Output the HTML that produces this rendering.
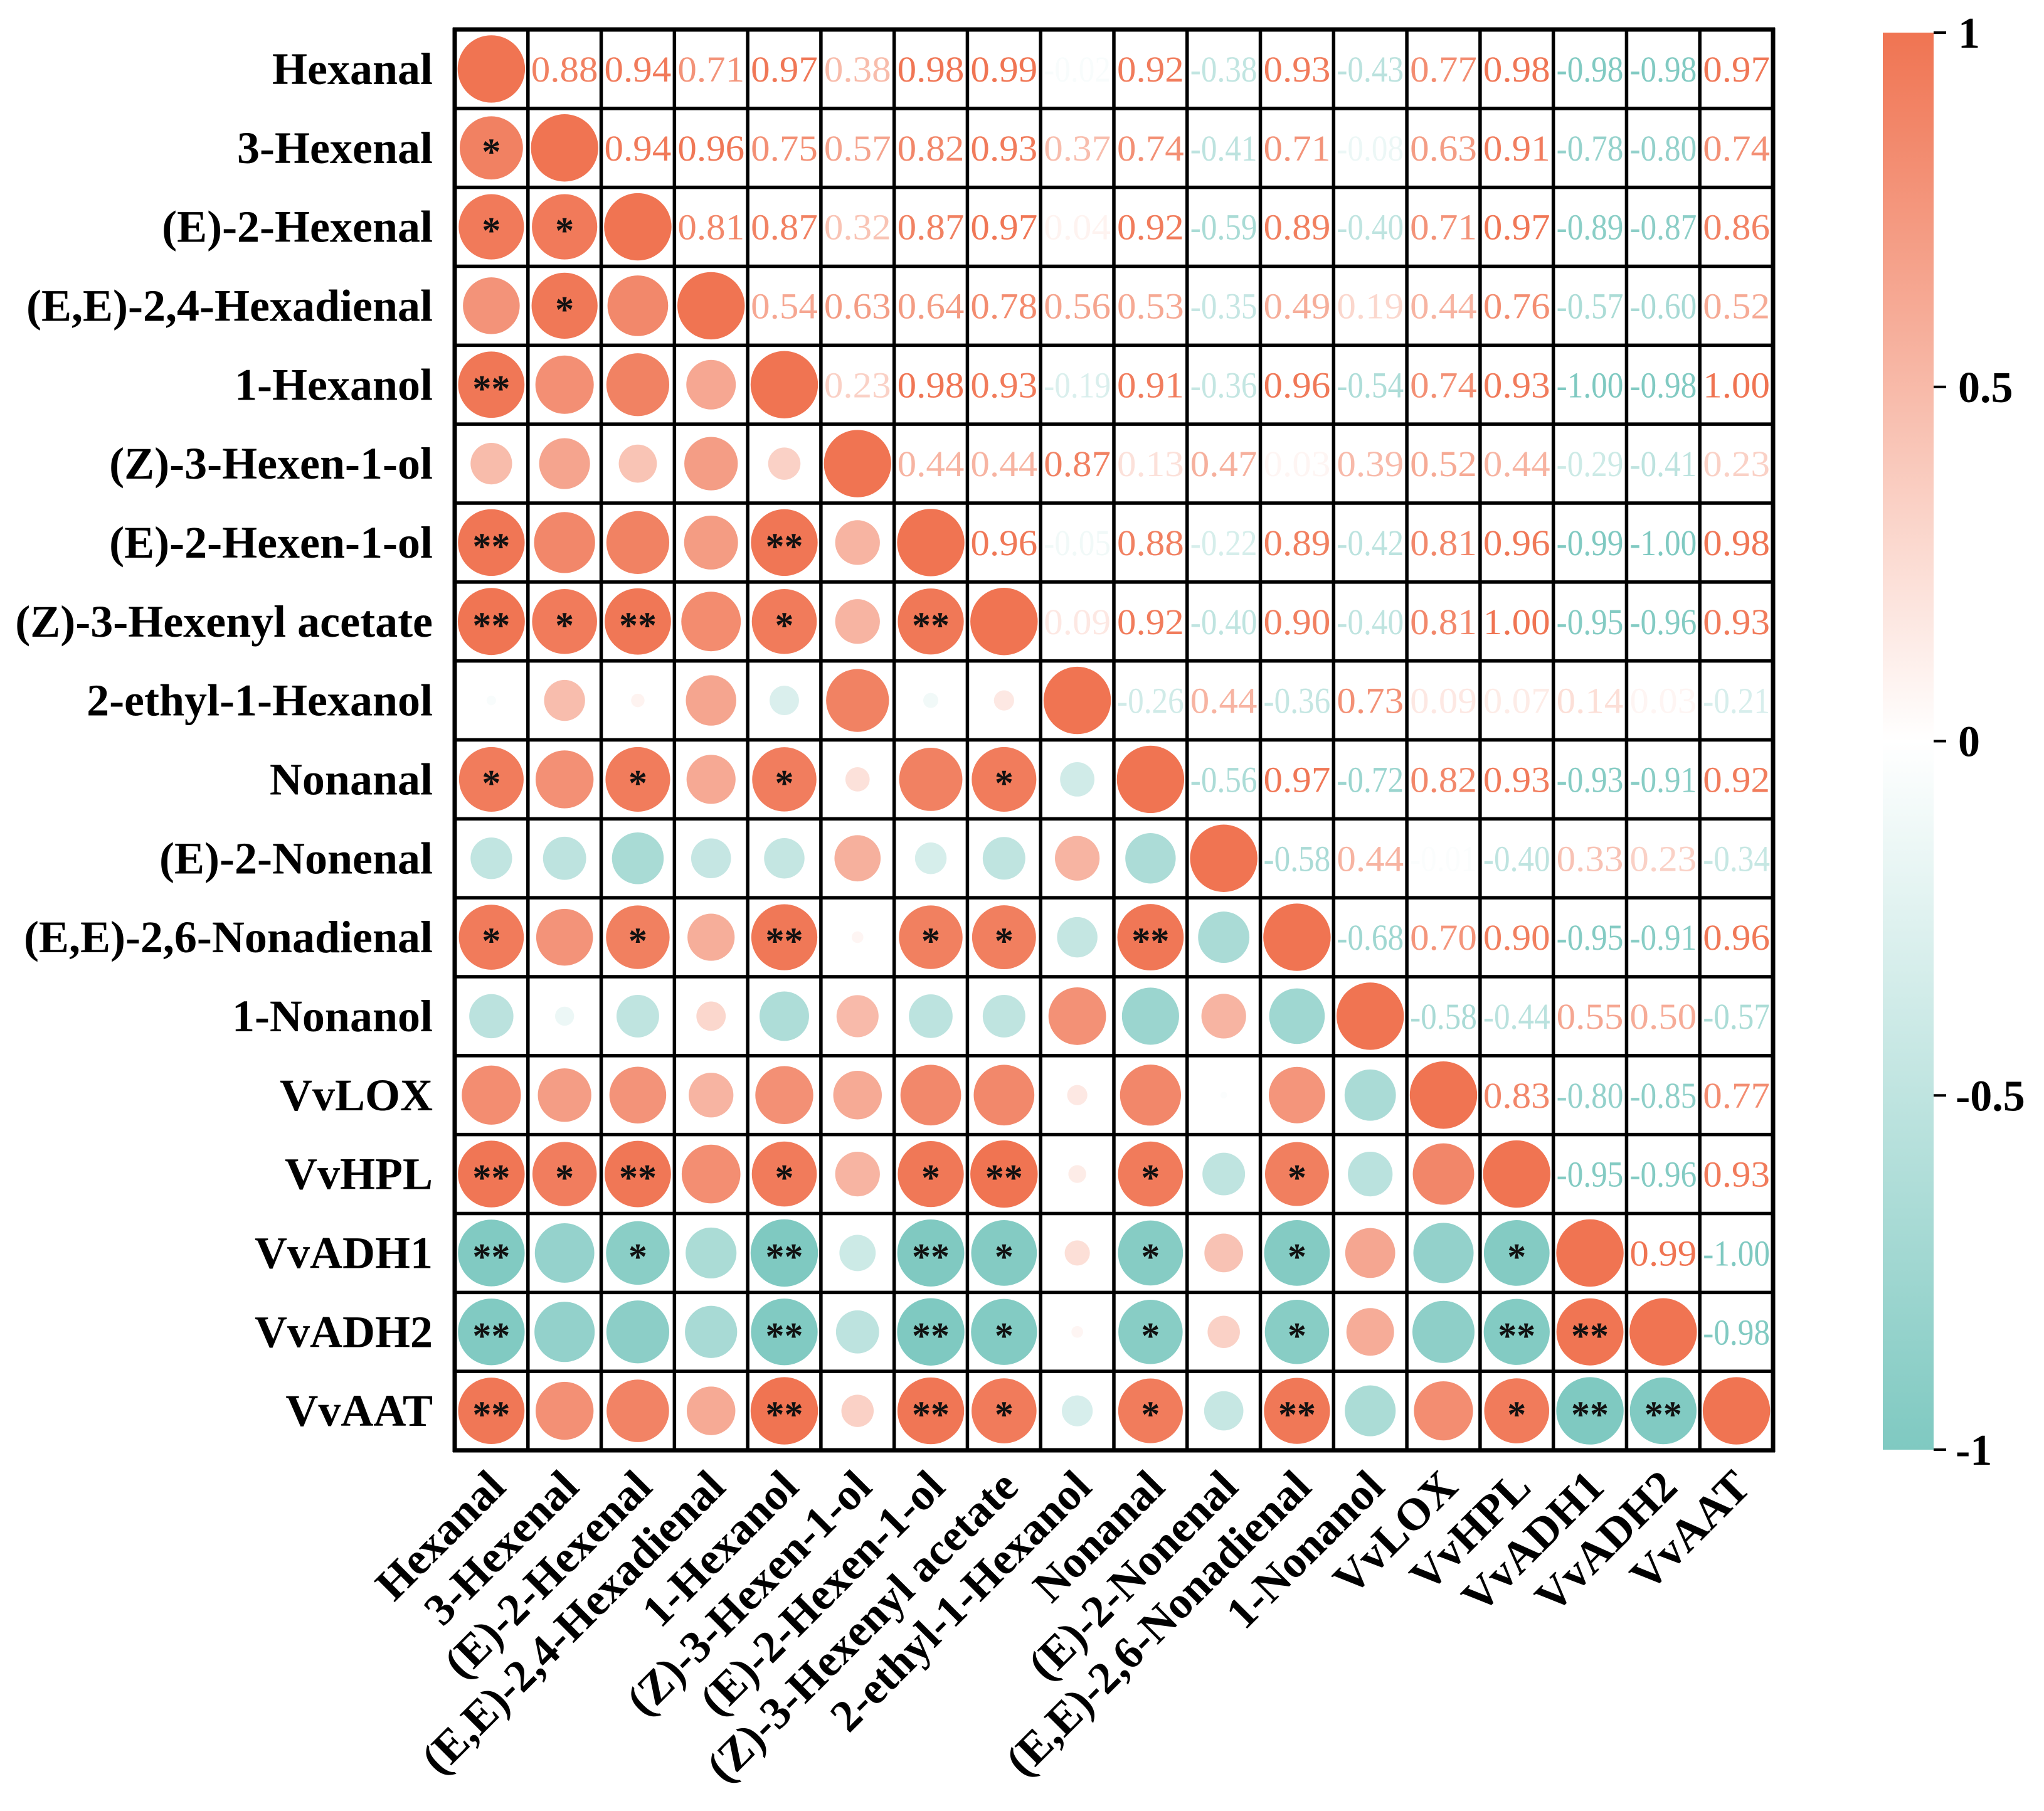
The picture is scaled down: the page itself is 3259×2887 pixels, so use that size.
<!DOCTYPE html>
<html><head><meta charset="utf-8"><style>
html,body{margin:0;padding:0;background:#fff;}
svg{display:block;}
text{font-family:"Liberation Serif",serif;}
</style></head><body>
<svg id="chart" width="3259" height="2887" viewBox="0 0 3259 2887" xmlns="http://www.w3.org/2000/svg">
<defs>
<linearGradient id="cbar" x1="0" y1="0" x2="0" y2="1">
<stop offset="0" stop-color="#F07452"/>
<stop offset="0.5" stop-color="#FFFFFF"/>
<stop offset="1" stop-color="#7FC9C1"/>
</linearGradient>
</defs>
<g id="cells"></g>
<g id="grid"></g>
<g id="ylab"></g>
<g id="xlab"></g>
<g id="legend"></g>
</svg>
<script>
const labels = ["Hexanal","3-Hexenal","(E)-2-Hexenal","(E,E)-2,4-Hexadienal","1-Hexanol","(Z)-3-Hexen-1-ol","(E)-2-Hexen-1-ol","(Z)-3-Hexenyl acetate","2-ethyl-1-Hexanol","Nonanal","(E)-2-Nonenal","(E,E)-2,6-Nonadienal","1-Nonanol","VvLOX","VvHPL","VvADH1","VvADH2","VvAAT"];
const upper0 = [0.88,0.94,0.71,0.97,0.38,0.98,0.99,-0.02,0.92,-0.38,0.93,-0.43,0.77,0.98,-0.98,-0.98,0.97];
const upper1 = [0.94,0.96,0.75,0.57,0.82,0.93,0.37,0.74,-0.41,0.71,-0.08,0.63,0.91,-0.78,-0.80,0.74];
const upper2 = [0.81,0.87,0.32,0.87,0.97,0.04,0.92,-0.59,0.89,-0.40,0.71,0.97,-0.89,-0.87,0.86];
const upper3 = [0.54,0.63,0.64,0.78,0.56,0.53,-0.35,0.49,0.19,0.44,0.76,-0.57,-0.60,0.52];
const upper4 = [0.23,0.98,0.93,-0.19,0.91,-0.36,0.96,-0.54,0.74,0.93,-1.00,-0.98,1.00];
const upper5 = [0.44,0.44,0.87,0.13,0.47,0.03,0.39,0.52,0.44,-0.29,-0.41,0.23];
const upper6 = [0.96,-0.05,0.88,-0.22,0.89,-0.42,0.81,0.96,-0.99,-1.00,0.98];
const upper7 = [0.09,0.92,-0.40,0.90,-0.40,0.81,1.00,-0.95,-0.96,0.93];
const upper8 = [-0.26,0.44,-0.36,0.73,0.09,0.07,0.14,0.03,-0.21];
const upper9 = [-0.56,0.97,-0.72,0.82,0.93,-0.93,-0.91,0.92];
const upper10 = [-0.58,0.44,-0.01,-0.40,0.33,0.23,-0.34];
const upper11 = [-0.68,0.70,0.90,-0.95,-0.91,0.96];
const upper12 = [-0.58,-0.44,0.55,0.50,-0.57];
const upper13 = [0.83,-0.80,-0.85,0.77];
const upper14 = [-0.95,-0.96,0.93];
const upper15 = [0.99,-1.00];
const upper16 = [-0.98];
const upperRows = [upper0,upper1,upper2,upper3,upper4,upper5,upper6,upper7,upper8,upper9,upper10,upper11,upper12,upper13,upper14,upper15,upper16,[]];
const sigMarks = [
[1,0,"*"],[2,0,"*"],[2,1,"*"],[3,1,"*"],[4,0,"**"],
[6,0,"**"],[6,4,"**"],
[7,0,"**"],[7,1,"*"],[7,2,"**"],[7,4,"*"],[7,6,"**"],
[9,0,"*"],[9,2,"*"],[9,4,"*"],[9,7,"*"],
[11,0,"*"],[11,2,"*"],[11,4,"**"],[11,6,"*"],[11,7,"*"],[11,9,"**"],
[14,0,"**"],[14,1,"*"],[14,2,"**"],[14,4,"*"],[14,6,"*"],[14,7,"**"],[14,9,"*"],[14,11,"*"],
[15,0,"**"],[15,2,"*"],[15,4,"**"],[15,6,"**"],[15,7,"*"],[15,9,"*"],[15,11,"*"],[15,14,"*"],
[16,0,"**"],[16,4,"**"],[16,6,"**"],[16,7,"*"],[16,9,"*"],[16,11,"*"],[16,14,"**"],[16,15,"**"],
[17,0,"**"],[17,4,"**"],[17,6,"**"],[17,7,"*"],[17,9,"*"],[17,11,"**"],[17,14,"*"],[17,15,"**"],[17,16,"**"]
];
const cbTicks = [1,0.5,0,-0.5,-1];
const cbTickLabels = ["1","0.5","0","-0.5","-1"];

const NS="http://www.w3.org/2000/svg";
const n=labels.length;
const X0=725,X1=2827,Y0=47,Y1=2312;
const cw=(X1-X0)/n, rh=(Y1-Y0)/n;
const xc=j=>X0+cw*(j+0.5);
const yc=i=>Y0+rh*(i+0.5);
function corr(i,j){ if(i===j) return 1; if(i<j) return upperRows[i][j-i-1]; return upperRows[j][i-j-1]; }
function color(v){
  const t=Math.pow(Math.min(1,Math.abs(v)),0.75);
  const c=v>=0?[240,116,82]:[127,201,193];
  const r=Math.round(255+(c[0]-255)*t),g=Math.round(255+(c[1]-255)*t),b=Math.round(255+(c[2]-255)*t);
  return `rgb(${r},${g},${b})`;
}
function mk(tag,attrs,parent){const e=document.createElementNS(NS,tag);for(const k in attrs)e.setAttribute(k,attrs[k]);parent.appendChild(e);return e;}
const cells=document.getElementById('cells');
const maxR=Math.min(cw,rh)*0.46;
for(let i=0;i<n;i++){for(let j=0;j<n;j++){
  const v=corr(i,j);
  if(j<=i){
    const c=mk('circle',{cx:xc(j),cy:yc(i),r:maxR*Math.sqrt(Math.abs(v)),fill:color(v)},cells);
    
    
  } else {
    const t=mk('text',{x:xc(j),y:yc(i)+20,'font-size':58,'text-anchor':'middle',fill:color(v),textLength:cw-10,lengthAdjust:'spacingAndGlyphs'},cells);
    t.textContent=v.toFixed(2);
    
    
  }
}}
sigMarks.forEach(m=>{
  const t=mk('text',{x:xc(m[1]),y:yc(m[0])+26,'font-size':60,'font-weight':'bold','text-anchor':'middle',fill:'#111'},cells);
  t.textContent=m[2];
  
  
});
const grid=document.getElementById('grid');
for(let k=0;k<=n;k++){
  const w=(k===0||k===n)?7:5.5;
  const l1=mk('line',{x1:X0+cw*k,x2:X0+cw*k,y1:Y0-3,y2:Y1+3,stroke:'#000','stroke-width':w},grid);
  
  
  const l2=mk('line',{x1:X0-3,x2:X1+3,y1:Y0+rh*k,y2:Y0+rh*k,stroke:'#000','stroke-width':w},grid);
  
  
}
const ylab=document.getElementById('ylab'), xlab=document.getElementById('xlab');
labels.forEach((s,i)=>{
  const t=mk('text',{x:690,y:yc(i)+24,'font-size':72,'font-weight':'bold','text-anchor':'end',fill:'#000'},ylab);
  t.textContent=s;
  
  
  const ax=xc(i)+26, ay=Y1+62;
  const u=mk('text',{x:ax,y:ay,'font-size':72,'font-weight':'bold','text-anchor':'end',fill:'#000',transform:`rotate(-45 ${ax} ${ay})`},xlab);
  u.textContent=s;
  
  
});
const leg=document.getElementById('legend');
const CB0=52,CB1=2311,CBX=3002,CBW=81;
const cb=mk('rect',{x:CBX,y:CB0,width:CBW,height:CB1-CB0,fill:'url(#cbar)'},leg);


const cy=v=>CB0+(1-v)/2*(CB1-CB0);
cbTicks.forEach((v,k)=>{
  const l=mk('line',{x1:CBX+CBW,x2:CBX+CBW+20,y1:cy(v),y2:cy(v),stroke:'#000','stroke-width':4},leg);
  
  
  const t=mk('text',{x:v<0?3118:3122,y:cy(v)+24,'font-size':70,'font-weight':'bold',fill:'#000'},leg);
  t.textContent=cbTickLabels[k];
  
  
});
</script>
</body></html>
